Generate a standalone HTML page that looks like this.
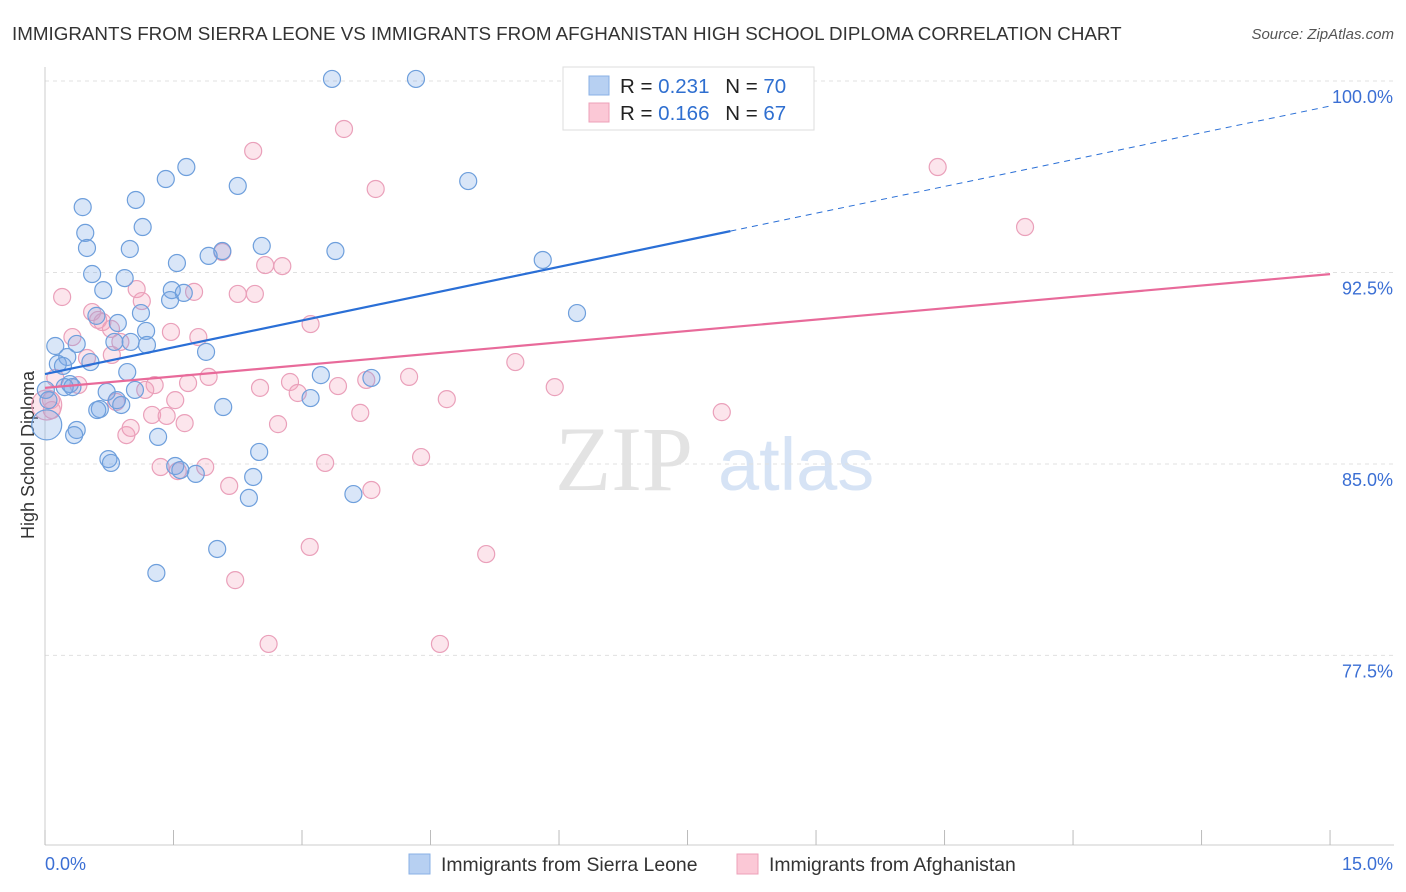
<!DOCTYPE html>
<html><head><meta charset="utf-8">
<style>
body{margin:0;background:#fff;font-family:"Liberation Sans",sans-serif;}
#wrap{position:relative;width:1406px;height:892px;overflow:hidden;}
</style></head>
<body>
<div id="wrap">
<svg id="svg" width="1406" height="892" xmlns="http://www.w3.org/2000/svg">
<text x="12" y="40" font-size="18.8" fill="#333">IMMIGRANTS FROM SIERRA LEONE VS IMMIGRANTS FROM AFGHANISTAN HIGH SCHOOL DIPLOMA CORRELATION CHART</text>
<text x="1394" y="39" font-size="15" fill="#555" font-style="italic" text-anchor="end">Source: ZipAtlas.com</text>
<text x="34" y="455" font-size="18" fill="#333" text-anchor="middle" transform="rotate(-90 34 455)">High School Diploma</text>
<g>
<text x="555" y="490" font-size="92" fill="#e3e3e3" font-family="Liberation Serif,serif">ZIP</text>
<text x="718" y="490" font-size="74" fill="#d6e3f5">atlas</text>
</g>
<g id="grid"></g><g id="pts"></g><g id="lines"></g>
<g>
<rect x="563" y="67" width="251" height="63" fill="#fff" stroke="#ddd"/>
<rect x="589" y="76" width="20" height="19" fill="#b7d0f2" stroke="#8ab0e6"/>
<rect x="589" y="103" width="20" height="19" fill="#fbc8d6" stroke="#eea0b8"/>
<text x="620" y="93" font-size="20.5" fill="#222">R = <tspan fill="#2f6fd0">0.231</tspan>  <tspan dx="10">N = </tspan><tspan fill="#2f6fd0">70</tspan></text>
<text x="620" y="120" font-size="20.5" fill="#222">R = <tspan fill="#2f6fd0">0.166</tspan>  <tspan dx="10">N = </tspan><tspan fill="#2f6fd0">67</tspan></text>
</g>
<g>
<rect x="409" y="854" width="21" height="20" fill="#b7d0f2" stroke="#8ab0e6"/>
<text x="441" y="871" font-size="19.4" fill="#333">Immigrants from Sierra Leone</text>
<rect x="737" y="854" width="21" height="20" fill="#fbc8d6" stroke="#eea0b8"/>
<text x="769" y="871" font-size="19.4" fill="#333">Immigrants from Afghanistan</text>
</g>
</svg>
</div>
<script>
const yTicks=[100,92.5,85,77.5];
const yTickLabels=["100.0%","92.5%","85.0%","77.5%"];
const xLabels=["0.0%","15.0%"];
const blueX=[3.35,4.33,0.44,1.41,1.65,2.25,4.94,1.06,0.47,0.49,1.14,0.99,2.07,2.53,3.39,0.55,0.93,1.54,1.91,5.81,0.68,1.48,1.62,1.46,1.12,6.21,0.60,0.85,1.18,0.37,0.81,1.00,1.19,0.12,1.88,0.26,0.15,0.21,0.53,0.96,3.22,3.81,0.29,0.23,0.72,1.05,0.84,0.89,3.10,0.64,0.61,2.08,0.02,0.37,0.34,1.32,0.74,0.77,2.50,1.52,1.58,1.76,2.43,2.38,3.60,2.01,1.30,0.01,0.04,0.32];
const blueY=[100.08,100.08,95.06,96.16,96.63,95.89,96.08,95.34,94.05,93.46,94.28,93.42,93.34,93.54,93.34,92.44,92.28,92.87,93.15,92.99,91.81,91.81,91.70,91.42,90.91,90.91,90.80,90.52,90.21,89.70,89.78,89.78,89.66,89.62,89.39,89.19,88.92,88.84,88.99,88.60,88.48,88.37,88.13,88.01,87.82,87.90,87.50,87.31,87.58,87.15,87.11,87.23,86.53,86.33,86.13,86.06,85.19,85.04,85.47,84.92,84.76,84.61,84.49,83.67,83.82,81.67,80.73,87.90,87.50,88.01];
const pinkX=[6.86,3.49,2.43,3.86,10.42,11.44,0.20,1.07,1.13,1.74,2.25,2.45,2.57,2.77,2.07,0.55,0.62,0.67,0.32,0.77,0.88,0.49,0.78,1.47,1.79,3.10,5.49,0.12,0.39,1.28,1.67,1.91,1.17,2.51,2.86,2.95,3.42,3.75,4.25,5.95,1.52,4.69,0.83,0.07,0.08,1.25,1.42,1.63,2.72,3.68,7.90,0.95,1.00,1.35,1.55,1.87,3.27,4.39,2.15,3.81,3.09,5.15,2.22,2.61,4.61,0.02];
const pinkY=[100.04,98.12,97.26,95.77,96.63,94.28,91.54,91.85,91.38,91.74,91.66,91.66,92.79,92.75,93.30,90.95,90.64,90.56,89.97,90.29,89.78,89.15,89.27,90.17,89.97,90.48,88.99,88.37,88.09,88.09,88.17,88.41,87.90,87.98,88.21,87.78,88.05,88.29,88.41,88.01,87.50,87.54,87.43,87.50,87.11,86.92,86.88,86.60,86.56,87.00,87.03,86.13,86.41,84.88,84.72,84.88,85.04,85.27,84.14,83.98,81.75,81.47,80.45,77.95,77.95,87.31];
const blueBig=[52];
const pinkBig=[65];
const blueTrend=[88.52,0.70];
const pinkTrend=[87.98,0.297];

const NS="http://www.w3.org/2000/svg";
const X=v=>45+v*85.67;
const Y=v=>81+(100-v)*25.53;
function mk(t,a,p){const e=document.createElementNS(NS,t);for(const k in a)e.setAttribute(k,a[k]);p.appendChild(e);return e;}
const grid=document.getElementById('grid'),pts=document.getElementById('pts'),lines=document.getElementById('lines');
yTicks.forEach((t,i)=>{
 let l=mk('line',{x1:45,x2:1394,y1:Y(t),y2:Y(t),stroke:'#e0e0e0','stroke-dasharray':'4 4'},grid);
 
 
 let tx=mk('text',{x:1393,y:Y(t)+22,'font-size':18,fill:'#3b6fd4','text-anchor':'end'},grid);
 tx.textContent=yTickLabels[i];
 
 
});
let ax=mk('line',{x1:45,x2:45,y1:67,y2:845,stroke:'#ccc'},grid);


let bx=mk('line',{x1:45,x2:1394,y1:845,y2:845,stroke:'#ccc'},grid);


for(let i=0;i<=10;i++){
 let t=mk('line',{x1:X(i*1.5),x2:X(i*1.5),y1:830,y2:845,stroke:'#bbb'},grid);
 
 
}
let xl0=mk('text',{x:45,y:870,'font-size':18,fill:'#3b6fd4'},grid);xl0.textContent=xLabels[0];


let xl1=mk('text',{x:1393,y:870,'font-size':18,fill:'#3b6fd4','text-anchor':'end'},grid);xl1.textContent=xLabels[1];


function dots(xs,ys,big,fill,stroke,name){
 xs.forEach((x,i)=>{
  const r=big.includes(i)?15:8.5;
  let c=mk('circle',{cx:X(x),cy:Y(ys[i]),r:r,fill:fill,stroke:stroke,'stroke-width':1.2},pts);
  
  
 });
}
dots(pinkX,pinkY,pinkBig,'rgba(244,160,186,0.28)','#eaa0ba','point-afghanistan');
dots(blueX,blueY,blueBig,'rgba(120,165,230,0.28)','#6e9fdc','point-sierra-leone');
let b1=mk('line',{x1:X(0),y1:Y(blueTrend[0]),x2:X(8),y2:Y(blueTrend[0]+blueTrend[1]*8),stroke:'#2a6fd6','stroke-width':2.2},lines);


let b2=mk('line',{x1:X(8),y1:Y(blueTrend[0]+blueTrend[1]*8),x2:X(15),y2:Y(blueTrend[0]+blueTrend[1]*15),stroke:'#2a6fd6','stroke-width':1,'stroke-dasharray':'6 5'},lines);


let p1=mk('line',{x1:X(0),y1:Y(pinkTrend[0]),x2:X(15),y2:Y(pinkTrend[0]+pinkTrend[1]*15),stroke:'#e86a9a','stroke-width':2.2},lines);


</script>
</body></html>
